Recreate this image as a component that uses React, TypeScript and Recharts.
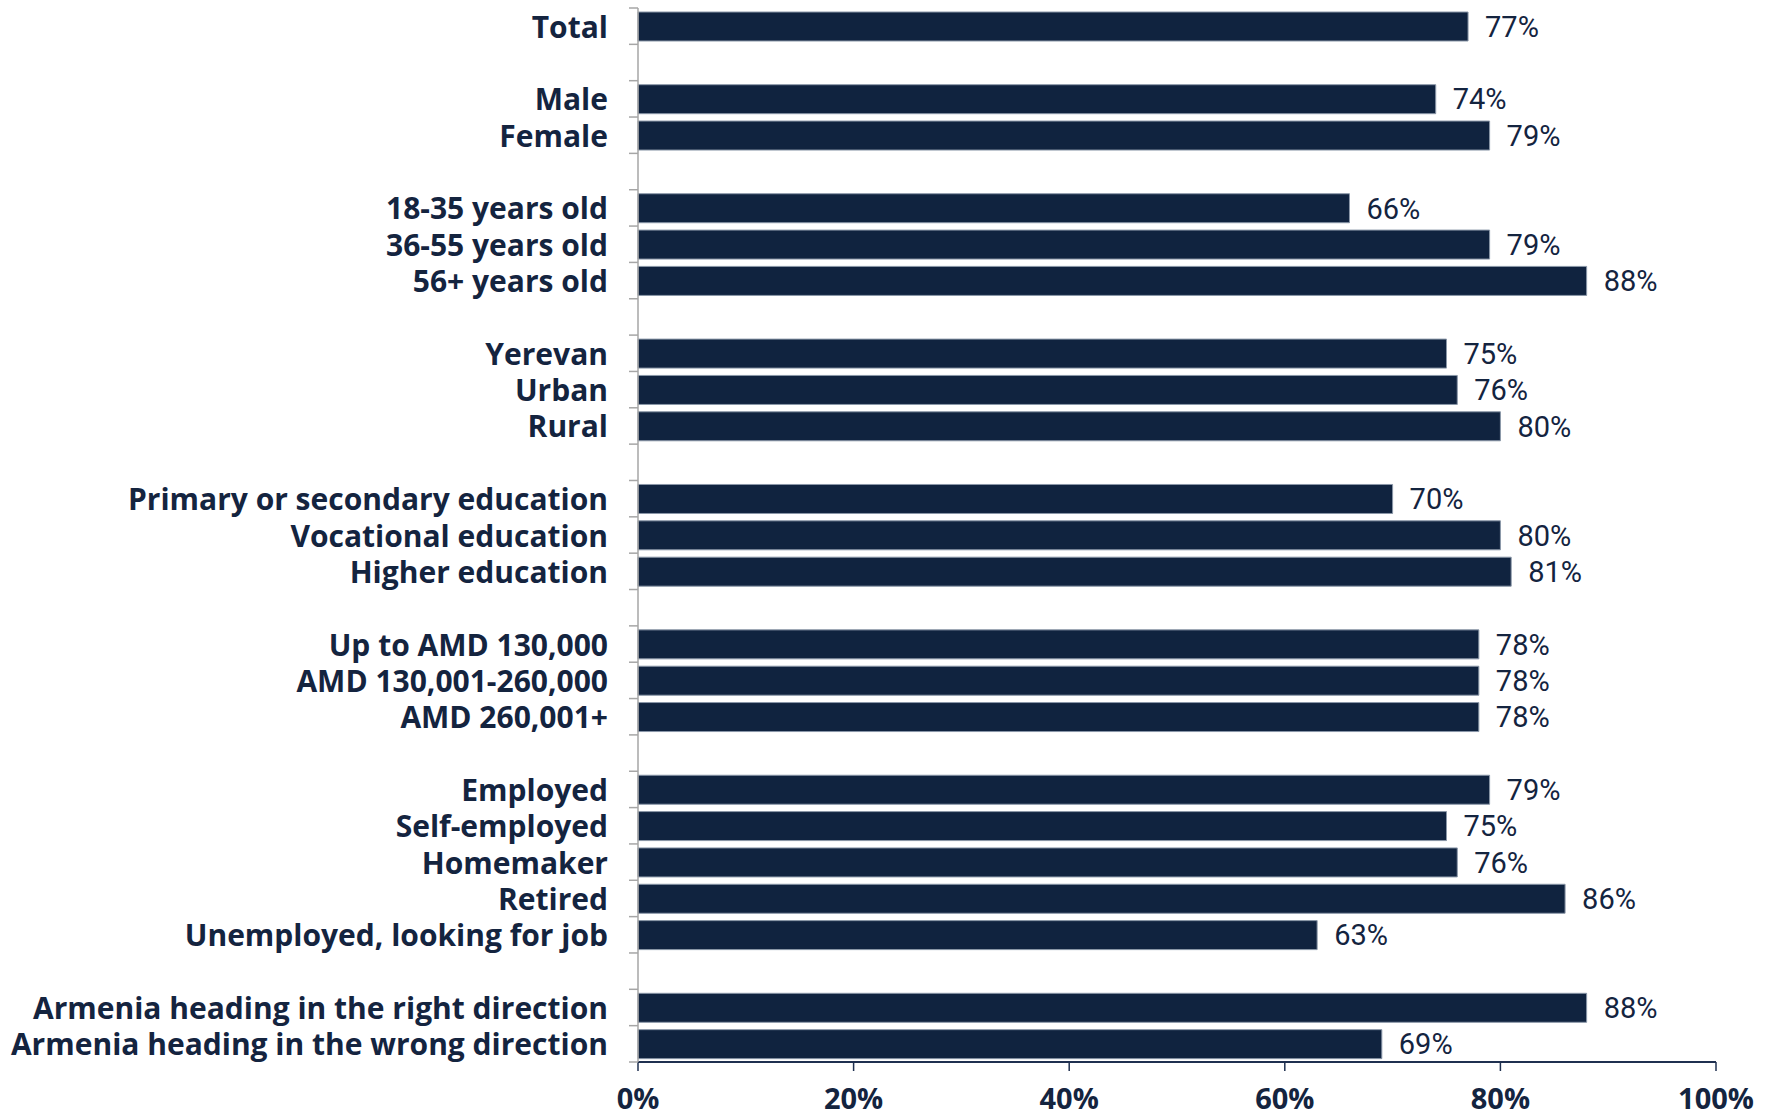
import { BarChart, Bar, XAxis, YAxis, LabelList } from "recharts";

// groups are separated by blank rows ("")
const categories = [
  "Total",
  "",
  "Male",
  "Female",
  "",
  "18-35 years old",
  "36-55 years old",
  "56+ years old",
  "",
  "Yerevan",
  "Urban",
  "Rural",
  "",
  "Primary or secondary education",
  "Vocational education",
  "Higher education",
  "",
  "Up to AMD 130,000",
  "AMD 130,001-260,000",
  "AMD 260,001+",
  "",
  "Employed",
  "Self-employed",
  "Homemaker",
  "Retired",
  "Unemployed, looking for job",
  "",
  "Armenia heading in the right direction",
  "Armenia heading in the wrong direction",
];

const values: (number | null)[] = [
  77,
  null,
  74, 79,
  null,
  66, 79, 88,
  null,
  75, 76, 80,
  null,
  70, 80, 81,
  null,
  78, 78, 78,
  null,
  79, 75, 76, 86, 63,
  null,
  88, 69,
];

const xTicks = [0, 20, 40, 60, 80, 100];

const rows = categories.map((label, i) => ({ id: i, label, value: values[i] }));

const W = 1775;
const H = 1116;
const MARGIN = { top: 8, right: 59, bottom: 0, left: 0 };
const Y_AXIS_W = 638;
const X_AXIS_H = 54;
const PLOT_H = H - MARGIN.top - MARGIN.bottom - X_AXIS_H;
const BAND = PLOT_H / categories.length;

const NAVY = "#10233f";
const TEXT = "#14243f";

function CategoryTick(props: any) {
  const { y, payload, index } = props;
  const label = categories[payload.value] ?? "";
  const top = y - BAND / 2;
  return (
    <g>
      <line x1={Y_AXIS_W - 9} x2={Y_AXIS_W} y1={top} y2={top} stroke="#a6a6a6" strokeWidth={1.5} />
      {index === categories.length - 1 && (
        <line x1={Y_AXIS_W - 9} x2={Y_AXIS_W} y1={top + BAND} y2={top + BAND} stroke="#a6a6a6" strokeWidth={1.5} />
      )}
      <text
        x={Y_AXIS_W - 30}
        y={y}
        textAnchor="end"
        dominantBaseline="central"
        fontFamily="'Open Sans', sans-serif"
        fontWeight={700}
        fontSize={30}
        fill={TEXT}
      >
        {label}
      </text>
    </g>
  );
}

function PercentTick(props: any) {
  const { x, payload } = props;
  return (
    <text
      x={x}
      y={H - MARGIN.bottom - X_AXIS_H + 35}
      textAnchor="middle"
      dominantBaseline="central"
      fontFamily="'Open Sans', sans-serif"
      fontWeight={700}
      fontSize={29}
      fill={TEXT}
    >
      {payload.value}%
    </text>
  );
}

export default function App() {
  return (
    <div style={{ position: "absolute", left: 0, top: 0, width: W, height: H, background: "#fff" }}>
      <BarChart
        width={W}
        height={H}
        data={rows}
        layout="vertical"
        margin={MARGIN}
        barSize={29}
      >
        <XAxis
          type="number"
          domain={[0, 100]}
          ticks={xTicks}
          height={X_AXIS_H}
          axisLine={{ stroke: "#1f3050", strokeWidth: 2 }}
          tickLine={{ stroke: "#1f3050", strokeWidth: 1.5 }}
          tickSize={9}
          tick={<PercentTick />}
        />
        <YAxis
          type="category"
          dataKey="id"
          width={Y_AXIS_W}
          interval={0}
          axisLine={{ stroke: "#a6a6a6", strokeWidth: 1.5 }}
          tickLine={false}
          tick={<CategoryTick />}
        />
        <Bar
          dataKey="value"
          fill={NAVY}
          stroke="#8a97a8"
          strokeWidth={1}
          isAnimationActive={false}
        >
          <LabelList
            dataKey="value"
            position="right"
            offset={17}
            formatter={(v: any) => (v == null ? "" : `${v}%`)}
            style={{ fontFamily: "Roboto, sans-serif", fontSize: 29, fill: TEXT }}
          />
        </Bar>
      </BarChart>
    </div>
  );
}
